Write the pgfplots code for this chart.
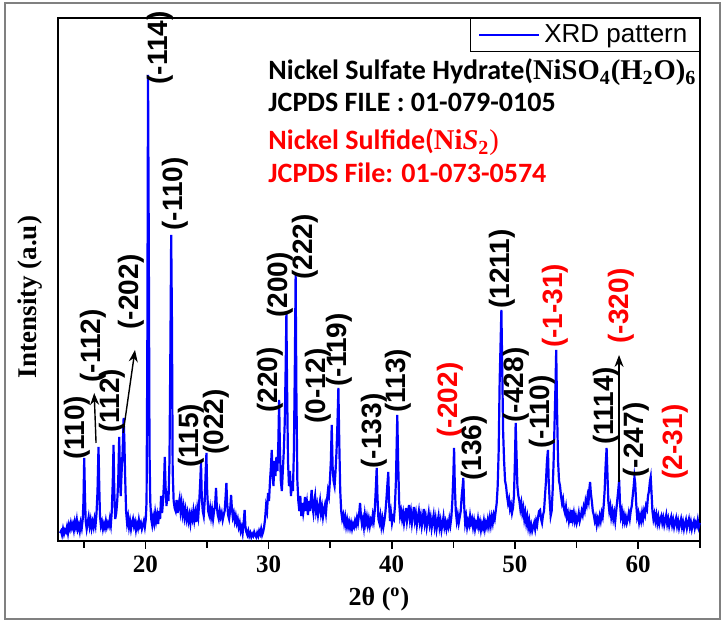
\documentclass[border=0pt]{standalone}
\usepackage{fontspec}
\setmainfont{Liberation Serif}
\newfontfamily\arial{Liberation Sans}
\newfontfamily\calibri{Carlito}
\usepackage{pgfplots}
\pgfplotsset{compat=1.18}
\usetikzlibrary{arrows.meta}

\begin{document}
\begin{tikzpicture}[
  lbl/.style={rotate=90, anchor=center, inner sep=0pt, font=\arial\bfseries\fontsize{14}{16}\selectfont},
  rlbl/.style={lbl, text=red},
  note/.style={anchor=base west, inner sep=0pt, font=\calibri\bfseries\fontsize{14}{16}\selectfont},
  arr/.style={-{Stealth[length=6pt,width=4.5pt]}, line width=0.7pt, black},
]
\begin{axis}[
  width=321pt, height=261.5pt, scale only axis,
  xmin=12.91, xmax=65.02, ymin=0, ymax=523,
  axis line style={line width=1pt},
  xtick={20,30,40,50,60},
  minor xtick={15,25,35,45,55,65},
  ytick=\empty,
  xtick pos=left, tick align=outside,
  major tick length=4pt, minor tick length=3.5pt,
  tick style={black, line width=0.8pt},
  tick label style={font=\fontsize{12.5}{14}\selectfont\bfseries},
  /pgf/number format/assume math mode=true,
  xlabel={2θ (\textsuperscript{o})},
  ylabel={Intensity (a.u)},
  every axis x label/.style={at={(rel axis cs:0.5,-0.1224)}, anchor=base, font=\fontsize{13}{15}\selectfont\bfseries},
  every axis y label/.style={at={(rel axis cs:-0.0436,0.4665)}, anchor=center, rotate=90, font=\fontsize{13.5}{15}\selectfont\bfseries},
  legend style={at={(rel axis cs:1,1)}, anchor=north east, draw=black, line width=0.6pt,
                font=\arial\fontsize{13}{15}\selectfont, inner xsep=4pt, inner ysep=1pt},
  legend cell align=left,
  legend image code/.code={\draw[#1] (0pt,0pt) -- (30pt,0pt);},
  clip=false,
]
\addplot[color={rgb,255:red,0;green,0;blue,255}, line width=1.1pt] coordinates {
(13.08,8) (13.16,10) (13.24,6) (13.32,12) (13.40,7) (13.48,11) (13.56,9) (13.64,14)
(13.72,8) (13.80,16) (13.88,12) (13.96,18) (14.04,13) (14.12,17) (14.20,11) (14.28,19)
(14.36,14) (14.44,21) (14.52,12) (14.60,16) (14.68,10) (14.76,18) (14.84,13) (14.92,22)
(14.98,40) (15.04,83) (15.10,45) (15.16,20) (15.24,12) (15.32,18) (15.40,24) (15.48,15)
(15.56,21) (15.64,13) (15.72,19) (15.80,14) (15.88,22) (15.96,16) (16.04,28) (16.12,50)
(16.20,94) (16.26,55) (16.32,25) (16.40,15) (16.48,19) (16.56,12) (16.64,17) (16.72,13)
(16.80,20) (16.88,14) (16.96,18) (17.04,15) (17.12,22) (17.20,16) (17.28,30) (17.36,60)
(17.42,96) (17.48,50) (17.56,22) (17.64,28) (17.72,40) (17.80,60) (17.88,104) (17.94,70)
(18.00,45) (18.08,70) (18.16,90) (18.24,123) (18.30,100) (18.36,65) (18.44,30) (18.52,18)
(18.60,24) (18.68,14) (18.76,20) (18.84,12) (18.92,18) (19.00,22) (19.08,15) (19.16,19)
(19.24,11) (19.32,17) (19.40,13) (19.48,21) (19.56,15) (19.64,18) (19.72,12) (19.80,16)
(19.88,20) (19.96,14) (20.04,22) (20.10,40) (20.16,180) (20.22,466) (20.28,300) (20.34,90)
(20.40,40) (20.48,22) (20.56,16) (20.64,24) (20.72,18) (20.80,28) (20.88,20) (20.96,26)
(21.04,17) (21.12,30) (21.20,22) (21.28,45) (21.36,28) (21.44,40) (21.52,60) (21.58,84)
(21.64,55) (21.72,35) (21.80,50) (21.88,40) (21.96,80) (22.04,200) (22.10,306) (22.16,220)
(22.22,70) (22.30,40) (22.38,33) (22.46,30) (22.54,41) (22.62,28) (22.70,36) (22.78,42)
(22.86,30) (22.94,38) (23.02,27) (23.10,34) (23.18,24) (23.26,31) (23.34,22) (23.42,28)
(23.50,20) (23.58,26) (23.66,18) (23.74,27) (23.82,22) (23.90,30) (23.98,21) (24.06,28)
(24.14,19) (24.22,32) (24.30,25) (24.38,40) (24.46,60) (24.52,79) (24.58,45) (24.66,30)
(24.74,25) (24.82,40) (24.90,70) (24.96,88) (25.02,50) (25.10,30) (25.18,26) (25.26,33)
(25.34,24) (25.42,31) (25.50,22) (25.58,30) (25.66,35) (25.74,53) (25.80,35) (25.88,26)
(25.96,22) (26.04,30) (26.12,24) (26.20,28) (26.28,21) (26.36,26) (26.44,30) (26.52,45)
(26.58,58) (26.64,38) (26.72,26) (26.80,22) (26.88,30) (26.96,46) (27.02,34) (27.10,24)
(27.18,28) (27.26,20) (27.34,25) (27.42,18) (27.50,22) (27.58,14) (27.66,18) (27.74,10)
(27.82,14) (27.90,8) (27.98,18) (28.06,31) (28.12,15) (28.20,9) (28.28,6) (28.36,10)
(28.44,5) (28.52,8) (28.60,4) (28.68,7) (28.76,5) (28.84,9) (28.92,6) (29.00,4)
(29.08,8) (29.16,5) (29.24,10) (29.32,7) (29.40,12) (29.48,6) (29.56,9) (29.64,14)
(29.72,22) (29.80,35) (29.88,30) (29.96,48) (30.04,40) (30.12,60) (30.20,75) (30.26,91)
(30.32,70) (30.40,55) (30.48,80) (30.56,65) (30.64,84) (30.72,70) (30.80,100) (30.86,141)
(30.92,95) (31.00,60) (31.08,50) (31.16,70) (31.24,90) (31.32,120) (31.40,180) (31.45,228)
(31.50,160) (31.58,80) (31.66,55) (31.74,70) (31.82,45) (31.90,60) (31.98,50) (32.06,90)
(32.14,180) (32.20,266) (32.26,150) (32.34,60) (32.42,40) (32.50,30) (32.58,45) (32.66,25)
(32.74,38) (32.82,28) (32.90,35) (32.96,44) (33.04,30) (33.12,38) (33.20,26) (33.28,40)
(33.36,30) (33.44,42) (33.50,51) (33.56,35) (33.64,28) (33.72,40) (33.78,45) (33.86,30)
(33.94,36) (34.02,26) (34.10,33) (34.18,40) (34.26,28) (34.34,34) (34.42,24) (34.50,31)
(34.58,36) (34.66,28) (34.74,40) (34.82,50) (34.90,45) (34.98,60) (35.06,80) (35.13,116)
(35.20,75) (35.28,60) (35.36,55) (35.44,70) (35.52,90) (35.60,120) (35.67,153) (35.74,100)
(35.82,50) (35.90,30) (35.98,22) (36.06,26) (36.14,18) (36.22,24) (36.30,15) (36.38,21)
(36.46,14) (36.54,19) (36.62,13) (36.70,18) (36.78,12) (36.86,17) (36.94,14) (37.02,20)
(37.10,16) (37.18,23) (37.26,18) (37.36,28) (37.43,38) (37.50,25) (37.58,17) (37.66,22)
(37.74,14) (37.82,26) (37.90,18) (37.98,24) (38.06,16) (38.14,22) (38.22,15) (38.30,21)
(38.38,18) (38.46,26) (38.54,20) (38.62,30) (38.70,50) (38.78,73) (38.84,45) (38.92,22)
(39.00,18) (39.08,25) (39.16,15) (39.24,22) (39.32,14) (39.40,20) (39.48,28) (39.56,40)
(39.64,55) (39.72,69) (39.78,40) (39.86,20) (39.94,28) (40.02,18) (40.10,24) (40.18,22)
(40.26,35) (40.34,60) (40.40,95) (40.45,126) (40.52,80) (40.60,40) (40.68,25) (40.76,30)
(40.84,22) (40.92,28) (41.00,18) (41.08,25) (41.16,33) (41.24,20) (41.32,27) (41.40,36)
(41.48,22) (41.56,29) (41.64,18) (41.72,26) (41.80,34) (41.88,21) (41.96,27) (42.04,16)
(42.12,24) (42.20,30) (42.28,19) (42.36,25) (42.44,15) (42.52,22) (42.60,32) (42.68,18)
(42.76,24) (42.84,14) (42.92,21) (43.00,28) (43.08,17) (43.16,23) (43.24,13) (43.32,20)
(43.40,26) (43.48,15) (43.56,22) (43.64,12) (43.72,19) (43.80,25) (43.88,14) (43.96,20)
(44.04,11) (44.12,17) (44.20,24) (44.28,14) (44.36,19) (44.44,12) (44.52,18) (44.60,14)
(44.68,22) (44.76,16) (44.84,24) (44.92,40) (45.00,65) (45.06,93) (45.12,55) (45.20,30)
(45.28,20) (45.36,26) (45.44,18) (45.52,24) (45.60,30) (45.68,45) (45.76,55) (45.81,63)
(45.88,35) (45.96,18) (46.04,24) (46.12,14) (46.20,20) (46.28,16) (46.36,25) (46.44,18)
(46.52,22) (46.60,14) (46.68,20) (46.76,12) (46.84,18) (46.92,15) (47.00,22) (47.08,14)
(47.16,19) (47.24,11) (47.32,17) (47.40,13) (47.48,20) (47.56,12) (47.64,18) (47.72,14)
(47.80,21) (47.88,15) (47.96,23) (48.04,16) (48.12,24) (48.20,18) (48.28,26) (48.36,22)
(48.44,30) (48.52,38) (48.60,55) (48.68,90) (48.76,160) (48.84,200) (48.90,231) (48.96,180)
(49.04,110) (49.12,80) (49.20,60) (49.28,55) (49.36,45) (49.44,38) (49.52,42) (49.60,32)
(49.68,36) (49.76,28) (49.84,33) (49.92,45) (50.00,80) (50.06,118) (50.12,90) (50.20,55)
(50.28,45) (50.36,40) (50.44,32) (50.52,38) (50.60,28) (50.68,33) (50.76,22) (50.84,28)
(50.92,18) (51.00,24) (51.08,14) (51.16,20) (51.24,11) (51.32,16) (51.40,10) (51.48,14)
(51.56,18) (51.64,12) (51.72,20) (51.80,16) (51.88,24) (51.96,30) (52.04,31) (52.12,22)
(52.20,18) (52.28,26) (52.36,30) (52.44,45) (52.52,60) (52.60,80) (52.68,91) (52.74,60)
(52.82,40) (52.90,25) (52.98,30) (53.06,50) (53.14,80) (53.22,120) (53.30,160) (53.35,191)
(53.42,130) (53.50,80) (53.58,60) (53.66,55) (53.74,45) (53.82,38) (53.90,42) (53.98,32)
(54.06,28) (54.14,34) (54.22,24) (54.30,28) (54.38,20) (54.46,26) (54.54,18) (54.62,31)
(54.70,22) (54.78,28) (54.86,20) (54.94,25) (55.02,18) (55.10,22) (55.18,28) (55.26,20)
(55.34,24) (55.42,30) (55.50,26) (55.58,34) (55.66,30) (55.74,40) (55.82,36) (55.90,45)
(55.98,40) (56.04,52) (56.10,59) (56.16,48) (56.24,40) (56.32,30) (56.40,26) (56.48,20)
(56.56,24) (56.64,16) (56.72,22) (56.80,18) (56.88,25) (56.96,20) (57.04,28) (57.12,24)
(57.20,35) (57.28,50) (57.36,75) (57.44,93) (57.50,70) (57.58,40) (57.66,30) (57.74,35)
(57.82,24) (57.90,30) (57.98,22) (58.06,28) (58.14,20) (58.22,30) (58.30,40) (58.38,50)
(58.46,61) (58.52,40) (58.60,25) (58.68,30) (58.76,20) (58.84,26) (58.92,19) (59.00,24)
(59.08,18) (59.16,22) (59.24,28) (59.32,22) (59.40,30) (59.48,35) (59.56,45) (59.64,55)
(59.70,64) (59.76,58) (59.84,38) (59.92,24) (60.00,28) (60.08,19) (60.16,25) (60.24,20)
(60.32,28) (60.40,22) (60.48,30) (60.56,26) (60.64,35) (60.72,32) (60.80,45) (60.88,50)
(60.96,60) (61.02,64) (61.08,50) (61.16,30) (61.24,22) (61.32,27) (61.40,20) (61.48,26)
(61.56,18) (61.64,24) (61.72,17) (61.80,22) (61.88,25) (61.96,18) (62.04,23) (62.12,16)
(62.20,21) (62.28,26) (62.36,17) (62.44,22) (62.52,15) (62.60,20) (62.68,24) (62.76,16)
(62.84,21) (62.92,14) (63.00,19) (63.08,23) (63.16,15) (63.24,20) (63.32,13) (63.40,18)
(63.48,22) (63.56,14) (63.64,19) (63.72,12) (63.80,17) (63.88,21) (63.96,13) (64.04,18)
(64.12,22) (64.20,14) (64.28,19) (64.36,12) (64.44,17) (64.52,20) (64.60,13) (64.68,18)
(64.76,15) (64.84,21) (64.92,14) (65.00,18)
};
\addlegendentry{XRD pattern}

% peak labels
\node[lbl]  at (axis cs:14.46,113) {(110)};
\node[lbl]  at (axis cs:15.75,195) {(-112)};
\node[lbl]  at (axis cs:17.30,140) {(112)};
\node[lbl]  at (axis cs:18.84,249) {(-202)};
\node[lbl]  at (axis cs:21.19,493) {(-114)};
\node[lbl]  at (axis cs:22.41,347) {(-110)};
\node[lbl]  at (axis cs:23.71,105) {(115)};
\node[lbl]  at (axis cs:25.74,119) {(022)};
\node[lbl]  at (axis cs:30.12,161) {(220)};
\node[lbl]  at (axis cs:30.93,256) {(200)};
\node[lbl]  at (axis cs:32.96,294) {(222)};
\node[lbl]  at (axis cs:34.02,155) {(0-12)};
\node[lbl]  at (axis cs:35.72,191) {(-119)};
\node[lbl]  at (axis cs:38.56,110) {(-133)};
\node[lbl]  at (axis cs:40.51,160) {(113)};
\node[rlbl] at (axis cs:44.73,141) {(-202)};
\node[lbl]  at (axis cs:46.68,93)  {(136)};
\node[lbl]  at (axis cs:48.95,272) {(1211)};
\node[lbl]  at (axis cs:50.09,156) {(-428)};
\node[lbl]  at (axis cs:52.20,129) {(-110)};
\node[rlbl] at (axis cs:53.26,235) {(-1-31)};
\node[lbl]  at (axis cs:57.40,135) {(1114)};
\node[rlbl] at (axis cs:58.62,235) {(-320)};
\node[lbl]  at (axis cs:59.84,101) {(-247)};
\node[rlbl] at (axis cs:63.00,99)  {(2-31)};

\draw[arr] (axis cs:16.00,98) -- (axis cs:15.85,148);
\draw[arr] (axis cs:18.20,108) -- (axis cs:19.16,191);
\draw[arr] (axis cs:58.45,59) -- (axis cs:58.45,186);

% phase notes
\node[note] at (axis cs:29.96,461) {Nickel Sulfate Hydrate({\rmfamily\fontsize{14.3}{16}\selectfont NiSO\textsubscript{4}(H\textsubscript{2}O)\textsubscript{6}}};
\node[note] at (axis cs:29.96,429) {JCPDS FILE : 01-079-0105};
\node[note, text=red] at (axis cs:29.96,391) {Nickel Sulfide({\rmfamily\fontsize{14.3}{16}\selectfont Ni\textit{S}\textsubscript{2}\mdseries)}};
\node[note, text=red] at (axis cs:29.96,358) {JCPDS File: 01-073-0574};

\coordinate (bbl) at (rel axis cs:-0.0903,-0.153);
\coordinate (btr) at (rel axis cs:1.0343,1.0344);
\coordinate (fbl) at (rel axis cs:-0.0826,-0.1491);
\coordinate (ftr) at (rel axis cs:1.0312,1.0287);
\end{axis}
\path (bbl) rectangle (btr);
\draw[gray, line width=0.8pt] (fbl) rectangle (ftr);
\end{tikzpicture}
\end{document}
